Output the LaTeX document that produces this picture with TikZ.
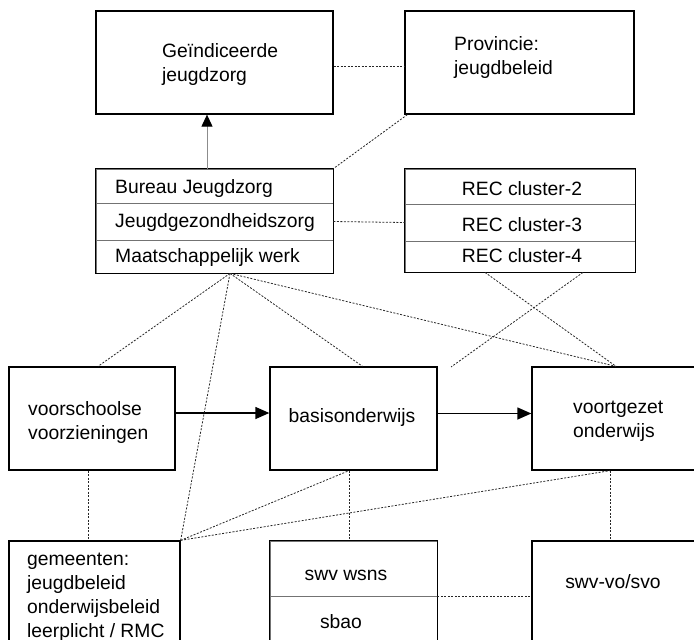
\documentclass[tikz,border=0pt]{standalone}
\usepackage{fontspec}
\setmainfont{Liberation Sans}
\usetikzlibrary{arrows.meta}

\begin{document}
\begin{tikzpicture}[x=1pt, y=-1pt,
        box/.style = {draw,
            line width=1.3pt,
            inner sep=0pt
        },
        row/.style = {draw=black!55,
            line width=0.8pt,
            inner sep=0pt
        },
        txt/.style = {inner sep=0pt,
            align=left,
            font=\fontsize{19.3}{24}\selectfont
        },
        link/.style = {draw=black!85,
            line width=0.8pt,
            dash pattern=on 2pt off 1.5pt
        },
        flow/.style = {line width=1.3pt,
            -{Triangle[length=14pt,width=12pt]}
        }]

    \useasboundingbox (0,0) rectangle (694,640);
    \clip (0,0) rectangle (694,640);

    % Top row
    \node [box, minimum width=237pt, minimum height=103pt] (gij) at (214.5,62.5){};
    \node [box, minimum width=229pt, minimum height=103pt] (prov) at (519.5,62.5){};
    \node [txt, anchor=west] (gij-txt) at (162,65) {Geïndiceerde\\jeugdzorg};
    \node [txt, anchor=west] (prov-txt) at (454,58) {Provincie:\\jeugdbeleid};

    % Stack left
    \node [row, minimum width=237pt, minimum height=34pt] (bureau) at (214.5,186){};
    \node [row, minimum width=237pt, minimum height=37pt] (jgz) at (214.5,221.5){};
    \node [row, minimum width=237pt, minimum height=33pt] (mw) at (214.5,256.5){};
    \draw [line width=1.3pt] (bureau.north west) rectangle (mw.south east);
    \node [txt, anchor=base west] (bureau-txt) at (115,193) {Bureau Jeugdzorg};
    \node [txt, anchor=base west] (jgz-txt) at (115,227) {Jeugdgezondheidszorg};
    \node [txt, anchor=base west] (mw-txt) at (115,262) {Maatschappelijk werk};

    % Stack REC
    \node [row, minimum width=230pt, minimum height=35pt] (rec2) at (520,186.5){};
    \node [row, minimum width=230pt, minimum height=37pt] (rec3) at (520,222.5){};
    \node [row, minimum width=230pt, minimum height=31pt] (rec4) at (520,256.5){};
    \draw [line width=1.3pt] (rec2.north west) rectangle (rec4.south east);
    \node [txt, anchor=base] (rec2-txt) at (522,195) {REC cluster-2};
    \node [txt, anchor=base] (rec3-txt) at (522,231) {REC cluster-3};
    \node [txt, anchor=base] (rec4-txt) at (522,262) {REC cluster-4};

    % Schools
    \node [box, minimum width=166pt, minimum height=103pt] (voor) at (92,418.5){};
    \node [box, minimum width=167pt, minimum height=103pt] (basis) at (353.5,418.5){};
    \node [box, minimum width=168pt, minimum height=103pt] (vo) at (616,418.5){};
    \node [txt, anchor=west] (voor-txt) at (28,423) {voorschoolse\\voorzieningen};
    \node [txt, anchor=base] (basis-txt) at (352,422) {basisonderwijs};
    \node [txt, anchor=west] (vo-txt) at (573,421) {voortgezet\\onderwijs};

    % Bottom row
    \node [box, minimum width=171pt, minimum height=109pt] (gem) at (94.5,595.5){};
    \node [row, minimum width=167pt, minimum height=55pt] (wsns) at (353.5,568.5){};
    \node [row, minimum width=167pt, minimum height=54pt] (sbao) at (353.5,623){};
    \draw [line width=1.3pt] (wsns.north west) rectangle (sbao.south east);
    \node [box, minimum width=168pt, minimum height=109pt] (swvvo) at (616,595.5){};
    \node [txt, anchor=west] (gem-txt) at (27,597) {gemeenten:\\jeugdbeleid\\onderwijsbeleid\\leerplicht / RMC};
    \node [txt, anchor=base] (wsns-txt) at (346,580) {swv wsns};
    \node [txt, anchor=base] (sbao-txt) at (341,628) {sbao};
    \node [txt, anchor=base] (swvvo-txt) at (613,588) {swv-vo/svo};

    % Arrows
    \draw [line width=1pt, draw=black!45, -{Triangle[length=12pt,width=11pt,color=black]}]
        ([xshift=-7.5pt]bureau.north) -- ([xshift=-7.5pt]gij.south);
    \draw [flow] ([yshift=5.5pt]voor.east) -- ([yshift=5.5pt]basis.west);
    \draw [flow] ([yshift=5pt]basis.east) -- ([yshift=5pt]vo.west);

    % Dotted links
    \coordinate (mwfoot) at ([xshift=15.5pt]mw.south);
    \coordinate (loose) at (451,367);
    \draw [link] ([yshift=-3.5pt]gij.east) -- ([yshift=-3.5pt]prov.west);
    \draw [link] ([xshift=3pt]prov.south west) -- (bureau.north east);
    \draw [link] (jgz.east) -- (rec3.west);
    \draw [link] (mwfoot) -- ([xshift=6pt]voor.north);
    \draw [link] (mwfoot) -- (gem.north east);
    \draw [link] (mwfoot) -- ([xshift=9pt]basis.north);
    \draw [link] (mwfoot) -- (vo.north);
    \draw [link] ([xshift=-35pt]rec4.south) -- (vo.north);
    \draw [link] ([xshift=63pt]rec4.south) -- (loose);
    \draw [link] (gem.north east) -- ([xshift=-4.5pt]basis.south);
    \draw [link] (gem.north east) -- ([xshift=-6pt]vo.south);
    \draw [link] ([xshift=-4pt]voor.south) -- ([xshift=-4pt]voor.south |- gem.north);
    \draw [link] ([xshift=-4.5pt]basis.south) -- ([xshift=-4.5pt]basis.south |- wsns.north);
    \draw [link] ([xshift=-6pt]vo.south) -- ([xshift=-6pt]vo.south |- swvvo.north);
    \draw [link] (wsns.south east) -- (wsns.south east -| swvvo.west);

\end{tikzpicture}
\end{document}
